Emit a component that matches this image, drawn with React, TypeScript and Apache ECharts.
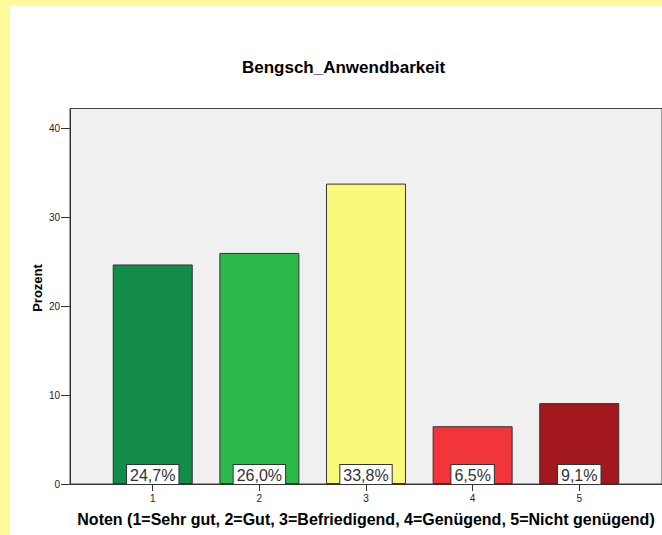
import React, { useEffect, useRef } from "react";
import * as echarts from "echarts";

const categories = [1, 2, 3, 4, 5];
const percentValues = [24.7, 26.0, 33.8, 6.5, 9.1];
const barColors = ["#128C48", "#2DB84B", "#FAF87A", "#F2343B", "#A2181C"];
const yTicks = [0, 10, 20, 30, 40];
const titleText = "Bengsch_Anwendbarkeit";
const xAxisName = "Noten (1=Sehr gut, 2=Gut, 3=Befriedigend, 4=Genügend, 5=Nicht genügend)";
const yAxisName = "Prozent";

const FONT = "Arial, 'Liberation Sans', sans-serif";

export default function App() {
  const ref = useRef<HTMLDivElement>(null);
  useEffect(() => {
    document.body.style.margin = "0";
    if (!ref.current) return;
    const chart = echarts.init(ref.current, null, { renderer: "svg" });
    chart.setOption({
      animation: false,
      backgroundColor: "#FFFA9C",
      textStyle: { fontFamily: FONT },
      graphic: [
        {
          type: "rect",
          z: -10,
          silent: true,
          shape: { x: 10, y: 6, width: 700, height: 600 },
          style: { fill: "#FFFFFF" },
        },
        {
          type: "text",
          x: 343.5,
          y: 67,
          style: {
            text: titleText,
            fontSize: 17,
            fontWeight: "bold",
            fill: "#000",
            fontFamily: FONT,
            align: "center",
            verticalAlign: "middle",
          },
        },
        {
          type: "text",
          x: 37,
          y: 288,
          rotation: Math.PI / 2,
          style: {
            text: yAxisName,
            fontSize: 13,
            fontWeight: "bold",
            fill: "#000",
            fontFamily: FONT,
            align: "center",
            verticalAlign: "middle",
          },
        },
      ],
      grid: {
        left: 70,
        top: 108.5,
        right: -2,
        bottom: 51,
        show: true,
        backgroundColor: "#F0F0F0",
        borderColor: "#444",
        borderWidth: 1,
      },
      xAxis: {
        type: "value",
        min: 0.224,
        max: 5.776,
        name: xAxisName,
        nameLocation: "middle",
        nameGap: 27,
        nameTextStyle: { fontSize: 16, fontWeight: "bold", color: "#000", fontFamily: FONT },
        axisLine: { show: true, lineStyle: { color: "#333", width: 1 } },
        axisTick: {
          show: true,
          customValues: categories,
          length: 7,
          lineStyle: { color: "#333" },
        },
        axisLabel: {
          customValues: categories,
          fontSize: 10,
          color: "#222",
          margin: 9,
          fontFamily: FONT,
        },
        splitLine: { show: false },
      },
      yAxis: {
        type: "value",
        min: 0,
        max: 42.25,
        axisLine: { show: true, lineStyle: { color: "#333", width: 1 } },
        axisTick: {
          show: true,
          customValues: yTicks,
          length: 9,
          lineStyle: { color: "#333" },
        },
        axisLabel: {
          customValues: yTicks,
          fontSize: 10,
          color: "#222",
          margin: 10,
          fontFamily: FONT,
        },
        splitLine: { show: false },
      },
      series: [
        {
          type: "bar",
          barWidth: 80,
          data: categories.map((c, i) => ({
            value: [c, percentValues[i]],
            itemStyle: { color: barColors[i], borderColor: "#333", borderWidth: 1 },
          })),
          label: {
            show: true,
            position: "insideBottom",
            distance: 0,
            formatter: (p: any) => p.value[1].toFixed(1).replace(".", ",") + "%",
            fontSize: 16,
            color: "#333",
            fontFamily: FONT,
            backgroundColor: "#FFFFFF",
            borderColor: "#333",
            borderWidth: 1,
            padding: [2, 3, 1, 3],
          },
        },
      ],
    });
    return () => chart.dispose();
  }, []);
  return <div ref={ref} style={{ width: 662, height: 535 }} />;
}
